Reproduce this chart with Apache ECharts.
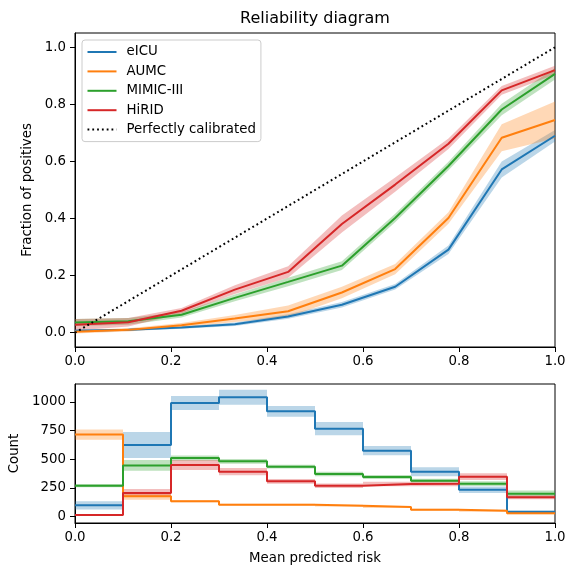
<!DOCTYPE html>
<html>
<head>
<meta charset="utf-8">
<script src="https://cdn.jsdelivr.net/npm/echarts@6/dist/echarts.min.js"></script>
<style>html,body{margin:0;padding:0;background:#fff}#c{width:565px;height:568px}</style>
</head>
<body>
<div id="c"></div>
<script>
// ---- Reliability (calibration) data ----
const binCenters = [0, 0.111, 0.222, 0.333, 0.444, 0.556, 0.667, 0.778, 0.889, 1.0];
const eicuFrac  = [0.007, 0.010, 0.018, 0.030, 0.057, 0.098, 0.161, 0.291, 0.572, 0.690];
const eicuErr   = [0.004, 0.004, 0.004, 0.006, 0.008, 0.010, 0.010, 0.015, 0.028, 0.020];
const aumcFrac  = [0.003, 0.010, 0.026, 0.050, 0.075, 0.141, 0.223, 0.402, 0.683, 0.745];
const aumcErr   = [0.006, 0.006, 0.008, 0.012, 0.020, 0.020, 0.018, 0.020, 0.047, 0.065];
const mimicFrac = [0.036, 0.040, 0.063, 0.122, 0.178, 0.235, 0.402, 0.584, 0.782, 0.907];
const mimicErr  = [0.012, 0.012, 0.010, 0.012, 0.015, 0.015, 0.015, 0.015, 0.020, 0.020];
const hiridFrac = [0.028, 0.037, 0.077, 0.151, 0.213, 0.381, 0.519, 0.662, 0.849, 0.920];
const hiridErr  = [0.020, 0.015, 0.010, 0.015, 0.020, 0.030, 0.025, 0.018, 0.015, 0.015];
const perfectLine = [[0, 0], [1, 1]];
const fracTicks = [0, 0.2, 0.4, 0.6, 0.8, 1.0];

// ---- Histogram (count) data ----
const histEdges = [0, 0.1, 0.2, 0.3, 0.4, 0.5, 0.6, 0.7, 0.8, 0.9, 1.0];
const eicuCount  = [99, 625, 991, 1040, 918, 767, 575, 392, 235, 41];
const eicuCErr   = [36, 113, 61, 65, 47, 58, 40, 39, 29, 17];
const aumcCount  = [715, 177, 134, 105, 105, 96, 84, 61, 52, 29];
const aumcCErr   = [44, 29, 9, 8, 8, 8, 8, 8, 8, 8];
const mimicCount = [270, 447, 511, 482, 436, 372, 346, 314, 288, 200];
const mimicCErr  = [14, 47, 23, 20, 17, 20, 17, 17, 20, 29];
const hiridCount = [14, 206, 450, 392, 308, 270, 285, 288, 349, 169];
const hiridCErr  = [8, 35, 44, 32, 20, 20, 20, 23, 30, 17];
const countTicks = [0, 250, 500, 750, 1000];

const names = ['eICU', 'AUMC', 'MIMIC-III', 'HiRID'];
const colors = ['#1f77b4', '#ff7f0e', '#2ca02c', '#d62728'];
const fracs = [eicuFrac, aumcFrac, mimicFrac, hiridFrac];
const fracErrs = [eicuErr, aumcErr, mimicErr, hiridErr];
const counts = [eicuCount, aumcCount, mimicCount, hiridCount];
const countErrs = [eicuCErr, aumcCErr, mimicCErr, hiridCErr];

const FONT = 'DejaVu Sans';
const FS = 13.33;

function bandPoly(xs, lo, hi, color, axisIdx) {
  return {
    type: 'custom', xAxisIndex: axisIdx, yAxisIndex: axisIdx, silent: true, z: 1,
    data: xs.map((x, i) => [x, lo[i], hi[i]]),
    encode: { x: 0, y: [1, 2] },
    renderItem: function (params, api) {
      if (params.dataIndex !== 0) return null;
      const pts = [];
      for (let i = 0; i < xs.length; i++) pts.push(api.coord([xs[i], hi[i]]));
      for (let i = xs.length - 1; i >= 0; i--) pts.push(api.coord([xs[i], lo[i]]));
      return { type: 'polygon', shape: { points: pts }, style: { fill: color, opacity: 0.3 } };
    }
  };
}

function stepBand(edges, vals, errs, color, axisIdx) {
  return {
    type: 'custom', xAxisIndex: axisIdx, yAxisIndex: axisIdx, silent: true, z: 1,
    data: vals.map((v, i) => [edges[i], v - errs[i], v + errs[i]]),
    encode: { x: 0, y: [1, 2] },
    renderItem: function (params, api) {
      if (params.dataIndex !== 0) return null;
      const pts = [];
      for (let i = 0; i < vals.length; i++) {
        pts.push(api.coord([edges[i], vals[i] + errs[i]]));
        pts.push(api.coord([edges[i + 1], vals[i] + errs[i]]));
      }
      for (let i = vals.length - 1; i >= 0; i--) {
        pts.push(api.coord([edges[i + 1], vals[i] - errs[i]]));
        pts.push(api.coord([edges[i], vals[i] - errs[i]]));
      }
      return { type: 'polygon', shape: { points: pts }, style: { fill: color, opacity: 0.3 } };
    }
  };
}

const series = [];
for (let k = 0; k < 4; k++) {
  const lo = fracs[k].map((v, i) => v - fracErrs[k][i]);
  const hi = fracs[k].map((v, i) => v + fracErrs[k][i]);
  series.push(bandPoly(binCenters, lo, hi, colors[k], 0));
}
for (let k = 0; k < 4; k++) {
  series.push({
    name: names[k], type: 'line', xAxisIndex: 0, yAxisIndex: 0,
    data: binCenters.map((x, i) => [x, fracs[k][i]]),
    symbol: 'none', showSymbol: false, z: 3,
    lineStyle: { color: colors[k], width: 2 }, itemStyle: { color: colors[k], opacity: 0 }
  });
}
series.push({
  name: 'Perfectly calibrated', type: 'line', xAxisIndex: 0, yAxisIndex: 0,
  data: perfectLine, symbol: 'none', showSymbol: false, z: 4,
  lineStyle: { color: '#000', width: 2, type: [1.8, 3] }, itemStyle: { color: '#000', opacity: 0 }
});
for (let k = 0; k < 4; k++) {
  series.push(stepBand(histEdges, counts[k], countErrs[k], colors[k], 1));
}
for (let k = 0; k < 4; k++) {
  const d = counts[k].map((v, i) => [histEdges[i], v]);
  d.push([histEdges[histEdges.length - 1], counts[k][counts[k].length - 1]]);
  series.push({
    name: names[k] + ' ', type: 'line', xAxisIndex: 1, yAxisIndex: 1, step: 'end',
    data: d, symbol: 'none', showSymbol: false, z: 3,
    lineStyle: { color: colors[k], width: 2 }, itemStyle: { color: colors[k] }
  });
}

const axisCommonX = {
  type: 'value', min: 0, max: 1, interval: 0.2,
  axisLine: { show: true, onZero: false, lineStyle: { color: '#000', width: 1 } },
  axisTick: { show: true, length: 5, lineStyle: { color: '#000' } },
  axisLabel: { color: '#000', fontSize: FS, fontFamily: FONT, margin: 8, showMinLabel: true, showMaxLabel: true,
    hideOverlap: false, formatter: v => v.toFixed(1) },
  splitLine: { show: false }
};

const option = {
  animation: false,
  backgroundColor: '#fff',
  textStyle: { fontFamily: FONT },
  title: {
    text: 'Reliability diagram', left: 240, top: 11, padding: 0,
    textStyle: { fontFamily: FONT, fontSize: 16, fontWeight: 'normal', color: '#000' }
  },
  legend: {
    data: ['eICU', 'AUMC', 'MIMIC-III', 'HiRID', 'Perfectly calibrated'],
    orient: 'vertical', left: 82, top: 40,
    itemWidth: 29, itemHeight: 14, itemGap: 6.4,
    padding: [5.5, 5, 5.5, 4.5],
    itemStyle: { opacity: 0 },
    backgroundColor: 'rgba(255,255,255,0.8)', borderColor: '#cccccc', borderWidth: 1, borderRadius: 3,
    textStyle: { fontFamily: FONT, fontSize: FS, color: '#000', padding: [0, 0, 0, 5] }
  },
  grid: [
    { left: 75, top: 33, width: 480, height: 314, show: true, borderColor: '#000', borderWidth: 1,
      backgroundColor: 'transparent', containLabel: false, outerBoundsMode: 'none' },
    { left: 75, top: 384, width: 480, height: 139, show: true, borderColor: '#000', borderWidth: 1,
      backgroundColor: 'transparent', containLabel: false, outerBoundsMode: 'none' }
  ],
  xAxis: [
    Object.assign({}, axisCommonX, { gridIndex: 0 }),
    Object.assign({}, axisCommonX, { gridIndex: 1, name: 'Mean predicted risk', nameLocation: 'middle', nameGap: 29,
      nameTextStyle: { fontFamily: FONT, fontSize: FS, color: '#000' } })
  ],
  yAxis: [
    {
      type: 'value', gridIndex: 0, min: -0.05, max: 1.05,
      name: 'Fraction of positives', nameLocation: 'middle', nameGap: 34,
      nameTextStyle: { fontFamily: FONT, fontSize: FS, color: '#000' },
      axisLine: { show: true, onZero: false, lineStyle: { color: '#000', width: 1 } },
      axisTick: { show: true, length: 5, lineStyle: { color: '#000' }, customValues: fracTicks },
      axisLabel: { color: '#000', fontSize: FS, fontFamily: FONT, margin: 9,
        customValues: fracTicks, formatter: v => v.toFixed(1) },
      splitLine: { show: false }
    },
    {
      type: 'value', gridIndex: 1, min: -55, max: 1156,
      name: 'Count', nameLocation: 'middle', nameGap: 45,
      nameTextStyle: { fontFamily: FONT, fontSize: FS, color: '#000' },
      axisLine: { show: true, onZero: false, lineStyle: { color: '#000', width: 1 } },
      axisTick: { show: true, length: 5, lineStyle: { color: '#000' }, customValues: countTicks },
      axisLabel: { color: '#000', fontSize: FS, fontFamily: FONT, margin: 9,
        customValues: countTicks, formatter: v => String(v) },
      splitLine: { show: false }
    }
  ],
  series: series
};

const chart = echarts.init(document.getElementById('c'), null, { renderer: 'canvas' });
chart.setOption(option);
</script>
</body>
</html>
